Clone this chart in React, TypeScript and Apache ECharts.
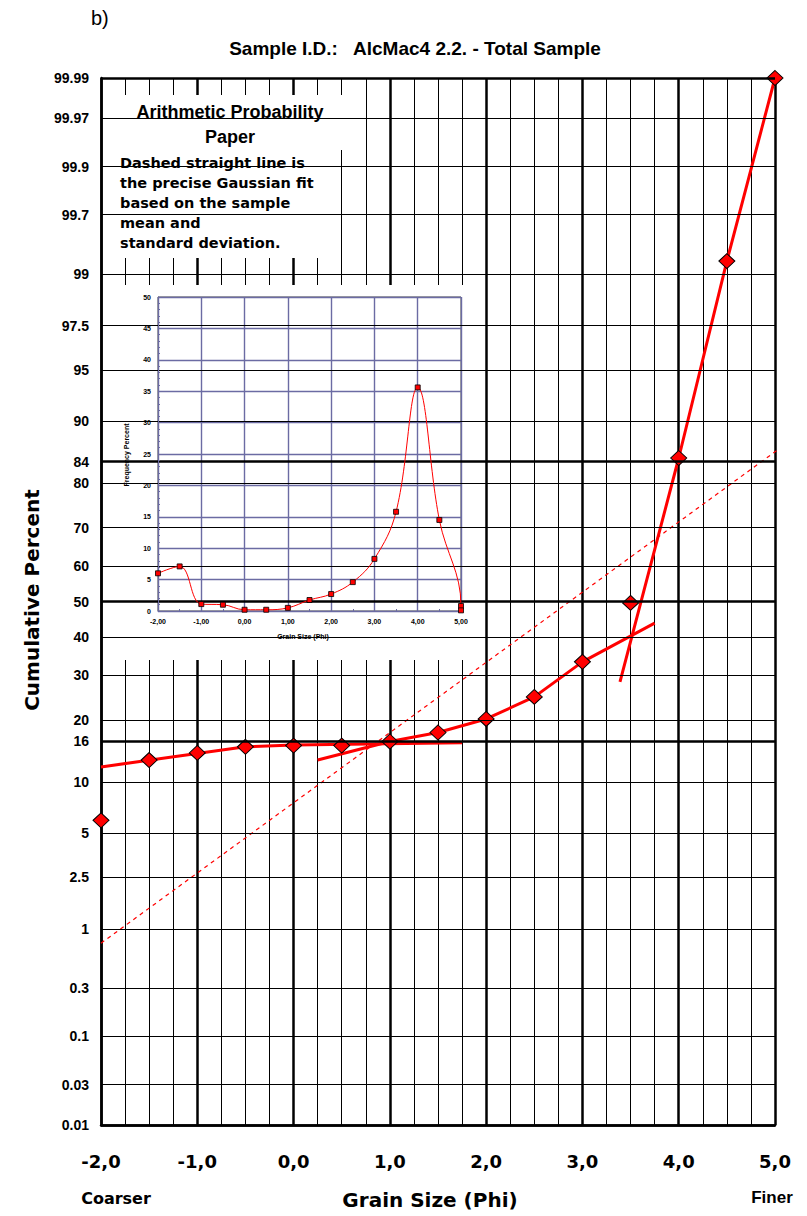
import React, { useEffect, useRef } from 'react';
import * as echarts from 'echarts';

// ---------- data ----------
const PHI = [-2, -1.5, -1, -0.5, 0, 0.5, 1, 1.5, 2, 2.5, 3, 3.5, 4, 4.5, 5];
const CUMULATIVE = [6.0, 13.0, 14.1, 15.1, 15.3, 15.3, 16.0, 17.6, 20.2, 24.9, 33.4, 49.6, 84.6, 99.22, 99.99];

const FREQ_PHI = [-2, -1.5, -1, -0.5, 0, 0.5, 1, 1.5, 2, 2.5, 3, 3.5, 4, 4.5, 5, 5];
const FREQUENCY = [6.0, 7.1, 1.1, 1.0, 0.2, 0.2, 0.5, 1.75, 2.7, 4.6, 8.3, 15.8, 35.6, 14.5, 0.8, 0.1];

const GAUSS_PHI = [-2, 5.07];
const GAUSS_PCT = [0.76, 86.4];

const COARSE_FIT_PHI = [-2, -0.5, 0, 1.75];
const COARSE_FIT_PCT = [12.0, 15.1, 15.4, 15.8];

const MID_FIT_PHI = [0.25, 1, 1.5, 2, 2.5, 3, 3.75];
const MID_FIT_PCT = [13.0, 16.0, 17.6, 20.2, 24.9, 33.4, 43.9];

const FINE_FIT_PHI = [3.39, 4, 4.5, 5];
const FINE_FIT_PCT = [28.4, 84.6, 99.22, 99.99];

const Y_TICKS = ['0.01', '0.03', '0.1', '0.3', '1', '2.5', '5', '10', '16', '20', '30', '40', '50', '60', '70', '80', '84', '90', '95', '97.5', '99', '99.7', '99.9', '99.97', '99.99'];
const Y_THICK = ['0.01', '16', '50', '84', '99.99'];

const TITLE = 'Sample I.D.:   AlcMac4 2.2. - Total Sample';
const BOX_TITLE = ['Arithmetic Probability', 'Paper'];
const BOX_BODY = ['Dashed straight line is', 'the precise Gaussian fit', 'based on the sample', 'mean and', 'standard deviation.'];

// ---------- probit transform (probability paper scale) ----------
function probit(p: number): number {
  const a = [-3.969683028665376e1, 2.209460984245205e2, -2.759285104469687e2, 1.38357751867269e2, -3.066479806614716e1, 2.506628277459239];
  const b = [-5.447609879822406e1, 1.615858368580409e2, -1.556989798598866e2, 6.680131188771972e1, -1.328068155288572e1];
  const c = [-7.784894002430293e-3, -3.223964580411365e-1, -2.400758277161838, -2.549671010416613, 4.374664141464968, 2.938163982698783];
  const d = [7.784695709041462e-3, 3.224671290700398e-1, 2.445134137142996, 3.754408661907416];
  const pl = 0.02425;
  const ph = 1 - pl;
  let q: number, r: number;
  if (p < pl) {
    q = Math.sqrt(-2 * Math.log(p));
    return (((((c[0] * q + c[1]) * q + c[2]) * q + c[3]) * q + c[4]) * q + c[5]) / ((((d[0] * q + d[1]) * q + d[2]) * q + d[3]) * q + 1);
  }
  if (p <= ph) {
    q = p - 0.5;
    r = q * q;
    return ((((((a[0] * r + a[1]) * r + a[2]) * r + a[3]) * r + a[4]) * r + a[5]) * q) / (((((b[0] * r + b[1]) * r + b[2]) * r + b[3]) * r + b[4]) * r + 1);
  }
  q = Math.sqrt(-2 * Math.log(1 - p));
  return -(((((c[0] * q + c[1]) * q + c[2]) * q + c[3]) * q + c[4]) * q + c[5]) / ((((d[0] * q + d[1]) * q + d[2]) * q + d[3]) * q + 1);
}
const zp = (pct: number) => probit(pct / 100);
const pairs = (xs: number[], ps: number[]) => xs.map((x, i) => [x, zp(ps[i])]);

const RED = '#ff0000';
const GRID_BLUE = '#6b6ba3';

export default function App() {
  const ref = useRef<HTMLDivElement>(null);

  useEffect(() => {
    if (!ref.current) return;
    const chart = echarts.init(ref.current, undefined, { renderer: 'svg' });
    const yMin = zp(0.01);
    const yMax = zp(99.99);
    const eps = 1e-6;
    const clampY = (v: number) => Math.min(yMax - eps, Math.max(yMin + eps, v));

    const txt = (text: string, x: number, y: number, font: string, align = 'center', extra: any = {}) => ({
      type: 'text',
      x,
      y,
      z: 10,
      silent: true,
      ...extra,
      style: { text, font, fill: '#000', textAlign: align, textVerticalAlign: 'middle', verticalAlign: 'middle' },
    });

    const option: any = {
      animation: false,
      backgroundColor: '#fff',
      grid: [
        { left: 101, top: 78, right: 32, bottom: 91 },
        { left: 158, top: 297, width: 303, height: 314, show: true, borderColor: '#444', borderWidth: 1, z: 5 },
      ],
      xAxis: [
        {
          gridIndex: 0,
          type: 'value',
          min: -2,
          max: 5,
          interval: 1,
          axisLine: { show: true, onZero: false, lineStyle: { color: '#000', width: 2.5 } },
          axisTick: { show: false },
          axisLabel: {
            formatter: (v: number) => v.toFixed(1).replace('.', ','),
            fontFamily: 'DejaVu Sans',
            fontWeight: 'bold',
            fontSize: 18,
            color: '#000',
            margin: 27,
          },
          splitLine: { show: true, lineStyle: { color: '#000', width: 2.5 } },
          minorTick: { show: false, splitNumber: 4 },
          minorSplitLine: { show: true, lineStyle: { color: '#000', width: 1 } },
        },
        {
          gridIndex: 1,
          type: 'value',
          min: -2,
          max: 5,
          interval: 1,
          z: 5,
          axisLine: { show: true, onZero: false, lineStyle: { color: GRID_BLUE } },
          axisTick: { show: true, inside: true, length: 3, lineStyle: { color: GRID_BLUE } },
          minorTick: { show: true, splitNumber: 2, length: 2, lineStyle: { color: GRID_BLUE } },
          axisLabel: {
            formatter: (v: number) => v.toFixed(2).replace('.', ','),
            fontSize: 7,
            fontWeight: 'bold',
            fontFamily: 'Liberation Sans',
            color: '#000',
            margin: 7,
          },
          splitLine: { show: true, lineStyle: { color: GRID_BLUE, width: 1.4 } },
        },
      ],
      yAxis: [
        {
          gridIndex: 0,
          type: 'value',
          min: yMin,
          max: yMax,
          axisLine: { show: true, onZero: false, lineStyle: { color: '#000', width: 2.5 } },
          axisTick: { show: false },
          axisLabel: { show: false },
          splitLine: { show: false },
        },
        {
          gridIndex: 1,
          type: 'value',
          min: 0,
          max: 50,
          interval: 5,
          z: 5,
          axisLine: { show: true, onZero: false, lineStyle: { color: GRID_BLUE } },
          axisTick: { show: true, inside: true, length: 3, lineStyle: { color: GRID_BLUE } },
          minorTick: { show: true, splitNumber: 5, length: 2, lineStyle: { color: GRID_BLUE } },
          axisLabel: { fontSize: 7, fontWeight: 'bold', fontFamily: 'Liberation Sans', color: '#000', margin: 7 },
          splitLine: { show: true, lineStyle: { color: GRID_BLUE, width: 1.4 } },
        },
      ],
      series: [
        {
          name: 'grid',
          type: 'line',
          xAxisIndex: 0,
          yAxisIndex: 0,
          data: [],
          z: 0,
          silent: true,
          markLine: {
            silent: true,
            animation: false,
            precision: 12,
            symbol: ['none', 'none'],
            data: Y_TICKS.map((t) => ({
              name: t,
              yAxis: clampY(zp(parseFloat(t))),
              lineStyle: { color: '#000', type: 'solid', width: Y_THICK.includes(t) ? 2.5 : 1 },
              label: {
                show: true,
                position: 'start',
                formatter: t,
                distance: 12,
                fontSize: 14,
                fontWeight: 'bold',
                fontFamily: 'Liberation Sans',
                color: '#000',
              },
            })),
          },
        },
        {
          name: 'Gaussian fit',
          type: 'line',
          data: pairs(GAUSS_PHI, GAUSS_PCT),
          symbol: 'none',
          clip: false,
          z: 3,
          lineStyle: { color: RED, width: 1.2, type: [4, 4] },
        },
        {
          name: 'Coarse fit',
          type: 'line',
          data: pairs(COARSE_FIT_PHI, COARSE_FIT_PCT),
          symbol: 'none',
          z: 3,
          lineStyle: { color: RED, width: 3 },
        },
        {
          name: 'Mid fit',
          type: 'line',
          data: pairs(MID_FIT_PHI, MID_FIT_PCT),
          symbol: 'none',
          z: 3,
          lineStyle: { color: RED, width: 3 },
        },
        {
          name: 'Fine fit',
          type: 'line',
          data: pairs(FINE_FIT_PHI, FINE_FIT_PCT),
          symbol: 'none',
          clip: false,
          z: 3,
          lineStyle: { color: RED, width: 3 },
        },
        {
          name: 'Cumulative',
          type: 'scatter',
          data: pairs(PHI, CUMULATIVE),
          symbol: 'diamond',
          symbolSize: [16, 15],
          clip: false,
          z: 4,
          itemStyle: { color: RED, borderColor: '#000', borderWidth: 1, opacity: 1 },
        },
        {
          name: 'Frequency',
          type: 'line',
          xAxisIndex: 1,
          yAxisIndex: 1,
          data: FREQ_PHI.map((x, i) => [x, FREQUENCY[i]]),
          smooth: 0.4,
          symbol: 'rect',
          symbolSize: 5,
          z: 6,
          clip: false,
          lineStyle: { color: RED, width: 1 },
          itemStyle: { color: RED, borderColor: '#000', borderWidth: 0.8 },
        },
      ],
      graphic: [
        { type: 'rect', z: 1, silent: true, shape: { x: 104, y: 285, width: 373, height: 375 }, style: { fill: '#fff' } },
        { type: 'rect', z: 1, silent: true, shape: { x: 108, y: 95, width: 245, height: 55 }, style: { fill: '#fff' } },
        { type: 'rect', z: 1, silent: true, shape: { x: 115, y: 149, width: 203, height: 109 }, style: { fill: '#fff' } },
        txt('b)', 91, 18, '20px Liberation Sans', 'left'),
        txt(TITLE, 415, 48, 'bold 19px Liberation Sans'),
        txt(BOX_TITLE[0], 230, 112, 'bold 18px Liberation Sans'),
        txt(BOX_TITLE[1], 230, 137, 'bold 18px Liberation Sans'),
        ...BOX_BODY.map((l, i) => txt(l, 120, 163 + i * 20, 'bold 14.5px DejaVu Sans', 'left')),
        txt('Cumulative Percent', 32, 600, 'bold 20px DejaVu Sans', 'center', { rotation: Math.PI / 2 }),
        txt('Coarser', 116, 1198, 'bold 16px DejaVu Sans'),
        txt('Grain Size (Phi)', 430, 1200, 'bold 20px DejaVu Sans'),
        txt('Finer', 772, 1197, 'bold 17px Liberation Sans'),
        txt('Frequency Percent', 126, 455, 'bold 7px Liberation Sans', 'center', { rotation: Math.PI / 2 }),
        txt('Grain Size (Phi)', 303, 636, 'bold 7px Liberation Sans'),
      ],
    };

    chart.setOption(option);
    return () => chart.dispose();
  }, []);

  return <div ref={ref} style={{ position: 'fixed', left: 0, top: 0, width: 807, height: 1216 }} />;
}
